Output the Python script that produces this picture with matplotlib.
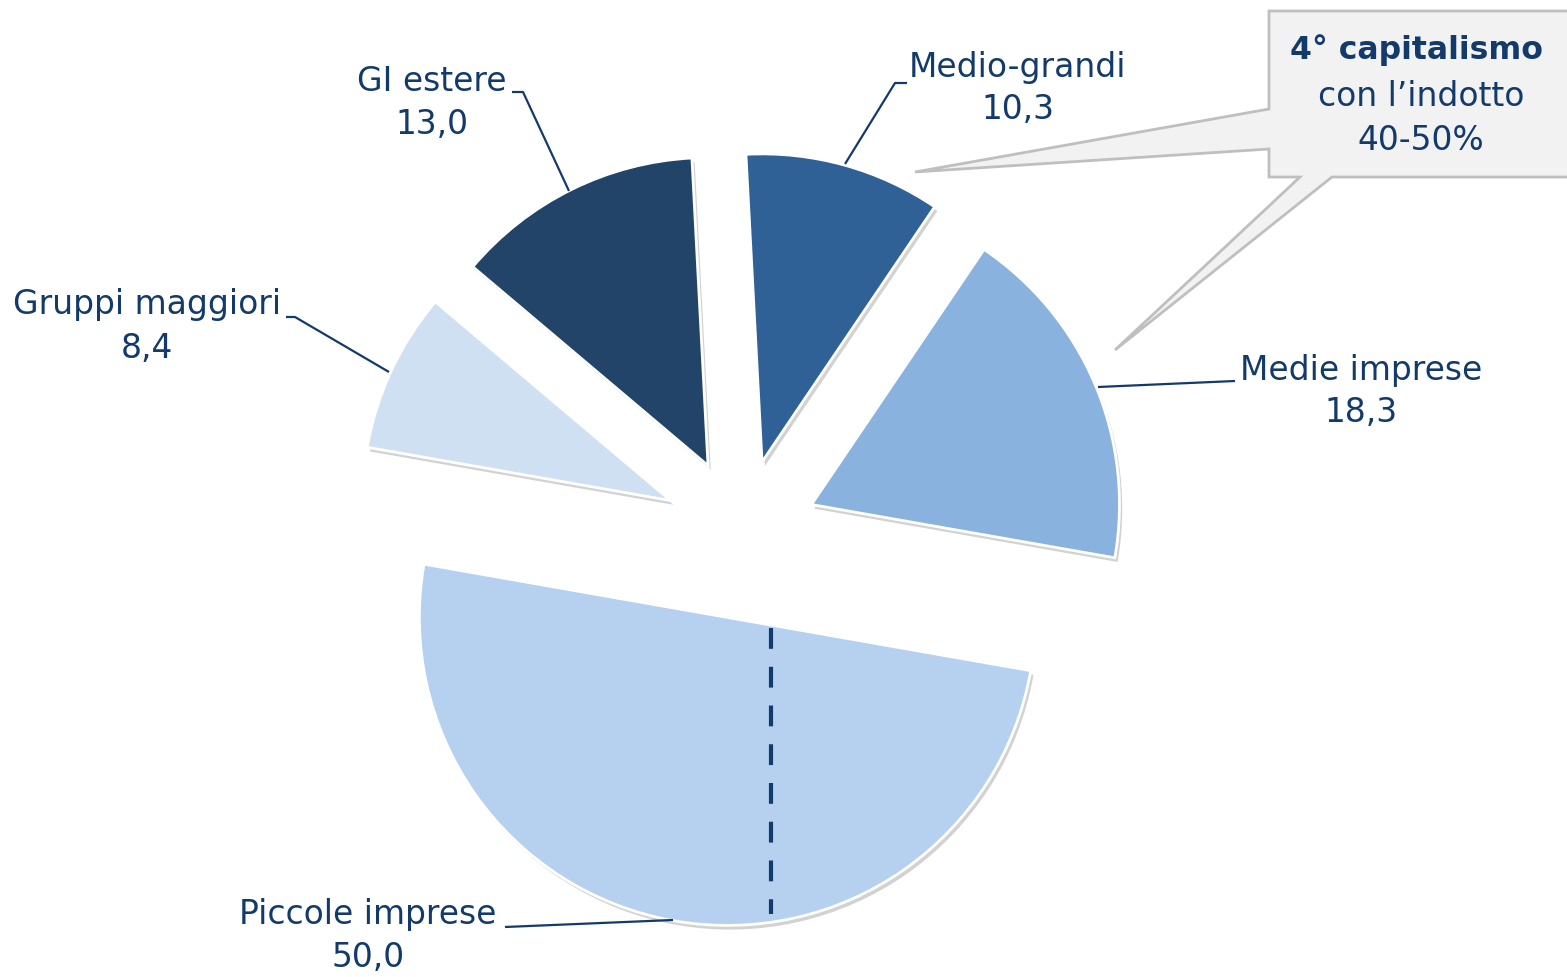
import matplotlib
matplotlib.use("Agg")
import matplotlib.pyplot as plt
import matplotlib.patheffects as pe
from matplotlib.patches import Polygon
import numpy as np

# ---- data ----
categories = ["Medio-grandi", "Medie imprese", "Piccole imprese", "Gruppi maggiori", "GI estere"]
values = [10.3, 18.3, 50.0, 8.4, 13.0]
callout_lines = ["4° capitalismo", "con l\u2019indotto", "40-50%"]

# ---- style ----
colors = ["#2F6096", "#8AB2DF", "#B5D1EF", "#D0E0F3", "#234469"]
explode_frac = [0.243, 0.245, 0.275, 0.256, 0.248]
navy = "#123A6B"
W, H = 1567, 978

fig = plt.figure(figsize=(W / 100, H / 100), dpi=100)
ax = fig.add_axes([0, 0, 1, 1])

def P(x, y):
    return (x, H - y)

R = 308
center = P(742, 535)
wedges, _ = ax.pie(values, explode=[e * R for e in explode_frac], colors=colors,
                   startangle=93, counterclock=False, radius=R, center=center, frame=True,
                   wedgeprops=dict(edgecolor="white", linewidth=2.0))
ax.set_xlim(0, W)
ax.set_ylim(0, H)
ax.set_aspect("equal")
ax.axis("off")
for w in wedges:
    w.set_path_effects([pe.SimplePatchShadow(offset=(2, -3), shadow_rgbFace="#7f7f7f", alpha=0.35),
                        pe.Normal()])

fs = 23.7
font = "DejaVu Sans"

# labels: (line1 center, line2 center) in pixels
label_pos = {
    "Medio-grandi": (1018, 68, 110),
    "Medie imprese": (1361, 371, 413),
    "Piccole imprese": (368, 915, 958),
    "Gruppi maggiori": (147, 305, 349),
    "GI estere": (432, 82, 125),
}
for cat, val in zip(categories, values):
    x, y1, y2 = label_pos[cat]
    ax.text(*P(x, y1), cat, ha="center", va="center", fontsize=fs, color=navy, family=font)
    ax.text(*P(x, y2), f"{val:.1f}".replace(".", ","), ha="center", va="center",
            fontsize=fs, color=navy, family=font)

# leader lines
leaders = [
    [(907, 84), (895, 84), (845, 165)],
    [(1235, 382), (1098, 388)],
    [(505, 928), (673, 921)],
    [(286, 318), (295, 318), (389, 373)],
    [(512, 93), (523, 93), (569, 192)],
]
for pts in leaders:
    xs, ys = zip(*[P(*p) for p in pts])
    ax.plot(xs, ys, color=navy, lw=1.6, solid_capstyle="butt")

# dashed split line in "Piccole imprese"
pw = wedges[2]
cx, cy = pw.center
xd = 771
t = np.deg2rad(-9.96)
y_top = cy + (xd - cx) * np.tan(t)
y_bot = cy - np.sqrt(R ** 2 - (xd - cx) ** 2) + 8
ax.plot([xd, xd], [y_top - 3, y_bot], color=navy, lw=3,
        linestyle=(0, (5, 4.3)), solid_capstyle="butt")

# callout shape
poly_px = [(1269, 12), (1580, 12), (1580, 178), (1332, 178), (1115, 351), (1300, 178),
           (1269, 178), (1269, 150), (915, 173), (1269, 110)]
callout = Polygon([P(*p) for p in poly_px], closed=True, facecolor="#F2F2F2",
                  edgecolor="#BFBFBF", lw=2, joinstyle="miter", zorder=5)
ax.add_patch(callout)
ax.text(*P(1416, 50), callout_lines[0], ha="center", va="center", fontsize=fs - 1,
        color=navy, family=font, fontweight="bold", zorder=6)
ax.text(*P(1421, 97), callout_lines[1], ha="center", va="center", fontsize=fs,
        color=navy, family=font, zorder=6)
ax.text(*P(1421, 141), callout_lines[2], ha="center", va="center", fontsize=fs,
        color=navy, family=font, zorder=6)

fig.savefig("out.png", dpi=100, facecolor="white")
